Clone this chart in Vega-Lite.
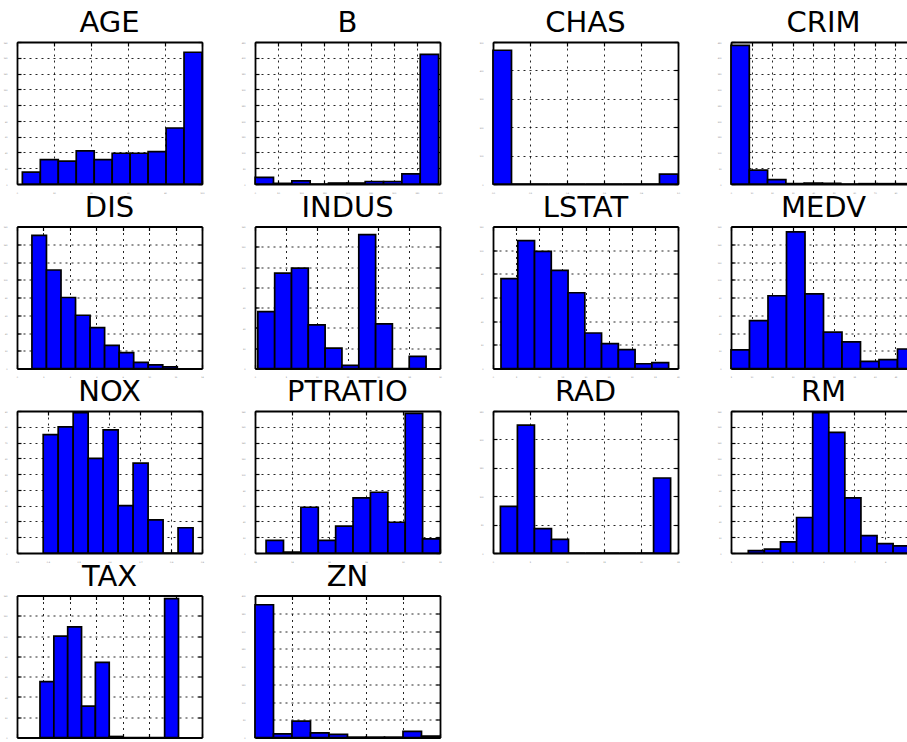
{
"$schema":"https://vega.github.io/schema/vega-lite/v6.json",
"padding":{"left":3,"top":9,"right":0,"bottom":0},
"background":"white",
"data":{"values":[
{"v":"AGE","x0":2.9,"x1":12.61,"n":15},{"v":"AGE","x0":12.61,"x1":22.32,"n":31},{"v":"AGE","x0":22.32,"x1":32.03,"n":29},{"v":"AGE","x0":32.03,"x1":41.74,"n":42},{"v":"AGE","x0":41.74,"x1":51.45,"n":31},{"v":"AGE","x0":51.45,"x1":61.16,"n":39},{"v":"AGE","x0":61.16,"x1":70.87,"n":39},{"v":"AGE","x0":70.87,"x1":80.58,"n":41},{"v":"AGE","x0":80.58,"x1":90.29,"n":71},{"v":"AGE","x0":90.29,"x1":100,"n":167},
{"v":"B","x0":0.32,"x1":39.98,"n":21},{"v":"B","x0":39.98,"x1":79.64,"n":2},{"v":"B","x0":79.64,"x1":119.29,"n":10},{"v":"B","x0":119.29,"x1":158.95,"n":0},{"v":"B","x0":158.95,"x1":198.61,"n":3},{"v":"B","x0":198.61,"x1":238.27,"n":3},{"v":"B","x0":238.27,"x1":277.93,"n":8},{"v":"B","x0":277.93,"x1":317.58,"n":8},{"v":"B","x0":317.58,"x1":357.24,"n":32},{"v":"B","x0":357.24,"x1":396.9,"n":411},
{"v":"CHAS","x0":0,"x1":0.1,"n":471},{"v":"CHAS","x0":0.1,"x1":0.2,"n":0},{"v":"CHAS","x0":0.2,"x1":0.3,"n":0},{"v":"CHAS","x0":0.3,"x1":0.4,"n":0},{"v":"CHAS","x0":0.4,"x1":0.5,"n":0},{"v":"CHAS","x0":0.5,"x1":0.6,"n":0},{"v":"CHAS","x0":0.6,"x1":0.7,"n":0},{"v":"CHAS","x0":0.7,"x1":0.8,"n":0},{"v":"CHAS","x0":0.8,"x1":0.9,"n":0},{"v":"CHAS","x0":0.9,"x1":1.0,"n":35},
{"v":"CRIM","x0":0.006,"x1":8.903,"n":439},{"v":"CRIM","x0":8.903,"x1":17.8,"n":44},{"v":"CRIM","x0":17.8,"x1":26.7,"n":14},{"v":"CRIM","x0":26.7,"x1":35.59,"n":1},{"v":"CRIM","x0":35.59,"x1":44.49,"n":3},{"v":"CRIM","x0":44.49,"x1":53.39,"n":2},{"v":"CRIM","x0":53.39,"x1":62.29,"n":0},{"v":"CRIM","x0":62.29,"x1":71.18,"n":1},{"v":"CRIM","x0":71.18,"x1":80.08,"n":1},{"v":"CRIM","x0":80.08,"x1":88.98,"n":1},
{"v":"DIS","x0":1.13,"x1":2.23,"n":150},{"v":"DIS","x0":2.23,"x1":3.33,"n":111},{"v":"DIS","x0":3.33,"x1":4.43,"n":80},{"v":"DIS","x0":4.43,"x1":5.53,"n":60},{"v":"DIS","x0":5.53,"x1":6.63,"n":46},{"v":"DIS","x0":6.63,"x1":7.73,"n":26},{"v":"DIS","x0":7.73,"x1":8.83,"n":18},{"v":"DIS","x0":8.83,"x1":9.93,"n":7},{"v":"DIS","x0":9.93,"x1":11.03,"n":4},{"v":"DIS","x0":11.03,"x1":12.13,"n":2},
{"v":"INDUS","x0":0.46,"x1":3.19,"n":56},{"v":"INDUS","x0":3.19,"x1":5.92,"n":94},{"v":"INDUS","x0":5.92,"x1":8.64,"n":99},{"v":"INDUS","x0":8.64,"x1":11.37,"n":43},{"v":"INDUS","x0":11.37,"x1":14.1,"n":20},{"v":"INDUS","x0":14.1,"x1":16.83,"n":3},{"v":"INDUS","x0":16.83,"x1":19.56,"n":132},{"v":"INDUS","x0":19.56,"x1":22.28,"n":44},{"v":"INDUS","x0":22.28,"x1":25.01,"n":0},{"v":"INDUS","x0":25.01,"x1":27.74,"n":12},
{"v":"LSTAT","x0":1.73,"x1":5.35,"n":76},{"v":"LSTAT","x0":5.35,"x1":8.98,"n":108},{"v":"LSTAT","x0":8.98,"x1":12.6,"n":99},{"v":"LSTAT","x0":12.6,"x1":16.23,"n":83},{"v":"LSTAT","x0":16.23,"x1":19.85,"n":64},{"v":"LSTAT","x0":19.85,"x1":23.47,"n":30},{"v":"LSTAT","x0":23.47,"x1":27.1,"n":21},{"v":"LSTAT","x0":27.1,"x1":30.72,"n":16},{"v":"LSTAT","x0":30.72,"x1":34.35,"n":4},{"v":"LSTAT","x0":34.35,"x1":37.97,"n":5},
{"v":"MEDV","x0":5,"x1":9.5,"n":21},{"v":"MEDV","x0":9.5,"x1":14,"n":54},{"v":"MEDV","x0":14,"x1":18.5,"n":82},{"v":"MEDV","x0":18.5,"x1":23,"n":154},{"v":"MEDV","x0":23,"x1":27.5,"n":84},{"v":"MEDV","x0":27.5,"x1":32,"n":41},{"v":"MEDV","x0":32,"x1":36.5,"n":30},{"v":"MEDV","x0":36.5,"x1":41,"n":8},{"v":"MEDV","x0":41,"x1":45.5,"n":10},{"v":"MEDV","x0":45.5,"x1":50,"n":22},
{"v":"NOX","x0":0.385,"x1":0.4336,"n":75},{"v":"NOX","x0":0.4336,"x1":0.4822,"n":80},{"v":"NOX","x0":0.4822,"x1":0.5308,"n":89},{"v":"NOX","x0":0.5308,"x1":0.5794,"n":60},{"v":"NOX","x0":0.5794,"x1":0.628,"n":78},{"v":"NOX","x0":0.628,"x1":0.6766,"n":30},{"v":"NOX","x0":0.6766,"x1":0.7252,"n":57},{"v":"NOX","x0":0.7252,"x1":0.7738,"n":21},{"v":"NOX","x0":0.7738,"x1":0.8224,"n":0},{"v":"NOX","x0":0.8224,"x1":0.871,"n":16},
{"v":"PTRATIO","x0":12.6,"x1":13.54,"n":16},{"v":"PTRATIO","x0":13.54,"x1":14.48,"n":1},{"v":"PTRATIO","x0":14.48,"x1":15.42,"n":58},{"v":"PTRATIO","x0":15.42,"x1":16.36,"n":16},{"v":"PTRATIO","x0":16.36,"x1":17.3,"n":34},{"v":"PTRATIO","x0":17.3,"x1":18.24,"n":70},{"v":"PTRATIO","x0":18.24,"x1":19.18,"n":77},{"v":"PTRATIO","x0":19.18,"x1":20.12,"n":39},{"v":"PTRATIO","x0":20.12,"x1":21.06,"n":177},{"v":"PTRATIO","x0":21.06,"x1":22.0,"n":18},
{"v":"RAD","x0":1,"x1":3.3,"n":82},{"v":"RAD","x0":3.3,"x1":5.6,"n":225},{"v":"RAD","x0":5.6,"x1":7.9,"n":43},{"v":"RAD","x0":7.9,"x1":10.2,"n":24},{"v":"RAD","x0":10.2,"x1":12.5,"n":0},{"v":"RAD","x0":12.5,"x1":14.8,"n":0},{"v":"RAD","x0":14.8,"x1":17.1,"n":0},{"v":"RAD","x0":17.1,"x1":19.4,"n":0},{"v":"RAD","x0":19.4,"x1":21.7,"n":0},{"v":"RAD","x0":21.7,"x1":24,"n":132},
{"v":"RM","x0":3.561,"x1":4.083,"n":3},{"v":"RM","x0":4.083,"x1":4.605,"n":5},{"v":"RM","x0":4.605,"x1":5.127,"n":14},{"v":"RM","x0":5.127,"x1":5.649,"n":45},{"v":"RM","x0":5.649,"x1":6.171,"n":178},{"v":"RM","x0":6.171,"x1":6.692,"n":153},{"v":"RM","x0":6.692,"x1":7.214,"n":70},{"v":"RM","x0":7.214,"x1":7.736,"n":22},{"v":"RM","x0":7.736,"x1":8.258,"n":12},{"v":"RM","x0":8.258,"x1":8.78,"n":9},
{"v":"TAX","x0":187,"x1":239.4,"n":55},{"v":"TAX","x0":239.4,"x1":291.8,"n":100},{"v":"TAX","x0":291.8,"x1":344.2,"n":109},{"v":"TAX","x0":344.2,"x1":396.6,"n":31},{"v":"TAX","x0":396.6,"x1":449,"n":74},{"v":"TAX","x0":449,"x1":501.4,"n":1},{"v":"TAX","x0":501.4,"x1":553.8,"n":0},{"v":"TAX","x0":553.8,"x1":606.2,"n":0},{"v":"TAX","x0":606.2,"x1":658.6,"n":0},{"v":"TAX","x0":658.6,"x1":711,"n":137},
{"v":"ZN","x0":0,"x1":10,"n":374},{"v":"ZN","x0":10,"x1":20,"n":10},{"v":"ZN","x0":20,"x1":30,"n":46},{"v":"ZN","x0":30,"x1":40,"n":13},{"v":"ZN","x0":40,"x1":50,"n":9},{"v":"ZN","x0":50,"x1":60,"n":1},{"v":"ZN","x0":60,"x1":70,"n":1},{"v":"ZN","x0":70,"x1":80,"n":1},{"v":"ZN","x0":80,"x1":90,"n":17},{"v":"ZN","x0":90,"x1":100,"n":4}
]},
"columns":4,
"spacing":{"row":42.5,"column":53},
"bounds":"flush",
"concat":[
{"title":"AGE","width":185,"height":142,"transform":[{"filter":"datum.v==='AGE'"}],"resolve":{"axis":{"x":"independent","y":"independent"}},"layer":[
{"mark":"rect","encoding":{"x":{"field":"x0","type":"quantitative","title":null,"scale":{"domain":[0,100],"nice":false},"axis":{"values":[0,20,40,60,80,100]}},"x2":{"field":"x1"},"y":{"field":"n","type":"quantitative","title":null,"scale":{"domain":[0,180],"nice":false},"axis":{"values":[0,20,40,60,80,100,120,140,160,180]}},"y2":{"datum":0}}},
{"mark":{"type":"rect","opacity":0},"encoding":{"x":{"field":"x0","type":"quantitative","title":null,"axis":{"orient":"top","labels":false,"grid":false,"values":[0,20,40,60,80,100]}},"x2":{"field":"x1"},"y":{"field":"n","type":"quantitative","title":null,"axis":{"orient":"right","labels":false,"grid":false,"values":[0,20,40,60,80,100,120,140,160,180]}},"y2":{"datum":0}}}]},
{"title":"B","width":185,"height":142,"transform":[{"filter":"datum.v==='B'"}],"resolve":{"axis":{"x":"independent","y":"independent"}},"layer":[
{"mark":"rect","encoding":{"x":{"field":"x0","type":"quantitative","title":null,"scale":{"domain":[0,400],"nice":false},"axis":{"values":[0,50,100,150,200,250,300,350,400]}},"x2":{"field":"x1"},"y":{"field":"n","type":"quantitative","title":null,"scale":{"domain":[0,450],"nice":false},"axis":{"values":[0,50,100,150,200,250,300,350,400,450]}},"y2":{"datum":0}}},
{"mark":{"type":"rect","opacity":0},"encoding":{"x":{"field":"x0","type":"quantitative","title":null,"axis":{"orient":"top","labels":false,"grid":false,"values":[0,50,100,150,200,250,300,350,400]}},"x2":{"field":"x1"},"y":{"field":"n","type":"quantitative","title":null,"axis":{"orient":"right","labels":false,"grid":false,"values":[0,50,100,150,200,250,300,350,400,450]}},"y2":{"datum":0}}}]},
{"title":"CHAS","width":185,"height":142,"transform":[{"filter":"datum.v==='CHAS'"}],"resolve":{"axis":{"x":"independent","y":"independent"}},"layer":[
{"mark":"rect","encoding":{"x":{"field":"x0","type":"quantitative","title":null,"scale":{"domain":[0,1],"nice":false},"axis":{"values":[0,0.2,0.4,0.6,0.8,1]}},"x2":{"field":"x1"},"y":{"field":"n","type":"quantitative","title":null,"scale":{"domain":[0,500],"nice":false},"axis":{"values":[0,100,200,300,400,500]}},"y2":{"datum":0}}},
{"mark":{"type":"rect","opacity":0},"encoding":{"x":{"field":"x0","type":"quantitative","title":null,"axis":{"orient":"top","labels":false,"grid":false,"values":[0,0.2,0.4,0.6,0.8,1]}},"x2":{"field":"x1"},"y":{"field":"n","type":"quantitative","title":null,"axis":{"orient":"right","labels":false,"grid":false,"values":[0,100,200,300,400,500]}},"y2":{"datum":0}}}]},
{"title":"CRIM","width":185,"height":142,"transform":[{"filter":"datum.v==='CRIM'"}],"resolve":{"axis":{"x":"independent","y":"independent"}},"layer":[
{"mark":"rect","encoding":{"x":{"field":"x0","type":"quantitative","title":null,"scale":{"domain":[0,90],"nice":false},"axis":{"values":[0,10,20,30,40,50,60,70,80,90]}},"x2":{"field":"x1"},"y":{"field":"n","type":"quantitative","title":null,"scale":{"domain":[0,450],"nice":false},"axis":{"values":[0,50,100,150,200,250,300,350,400,450]}},"y2":{"datum":0}}},
{"mark":{"type":"rect","opacity":0},"encoding":{"x":{"field":"x0","type":"quantitative","title":null,"axis":{"orient":"top","labels":false,"grid":false,"values":[0,10,20,30,40,50,60,70,80,90]}},"x2":{"field":"x1"},"y":{"field":"n","type":"quantitative","title":null,"axis":{"orient":"right","labels":false,"grid":false,"values":[0,50,100,150,200,250,300,350,400,450]}},"y2":{"datum":0}}}]},
{"title":"DIS","width":185,"height":142,"transform":[{"filter":"datum.v==='DIS'"}],"resolve":{"axis":{"x":"independent","y":"independent"}},"layer":[
{"mark":"rect","encoding":{"x":{"field":"x0","type":"quantitative","title":null,"scale":{"domain":[0,14],"nice":false},"axis":{"values":[0,2,4,6,8,10,12,14]}},"x2":{"field":"x1"},"y":{"field":"n","type":"quantitative","title":null,"scale":{"domain":[0,160],"nice":false},"axis":{"values":[0,20,40,60,80,100,120,140,160]}},"y2":{"datum":0}}},
{"mark":{"type":"rect","opacity":0},"encoding":{"x":{"field":"x0","type":"quantitative","title":null,"axis":{"orient":"top","labels":false,"grid":false,"values":[0,2,4,6,8,10,12,14]}},"x2":{"field":"x1"},"y":{"field":"n","type":"quantitative","title":null,"axis":{"orient":"right","labels":false,"grid":false,"values":[0,20,40,60,80,100,120,140,160]}},"y2":{"datum":0}}}]},
{"title":"INDUS","width":185,"height":142,"transform":[{"filter":"datum.v==='INDUS'"}],"resolve":{"axis":{"x":"independent","y":"independent"}},"layer":[
{"mark":"rect","encoding":{"x":{"field":"x0","type":"quantitative","title":null,"scale":{"domain":[0,30],"nice":false},"axis":{"values":[0,5,10,15,20,25,30]}},"x2":{"field":"x1"},"y":{"field":"n","type":"quantitative","title":null,"scale":{"domain":[0,140],"nice":false},"axis":{"values":[0,20,40,60,80,100,120,140]}},"y2":{"datum":0}}},
{"mark":{"type":"rect","opacity":0},"encoding":{"x":{"field":"x0","type":"quantitative","title":null,"axis":{"orient":"top","labels":false,"grid":false,"values":[0,5,10,15,20,25,30]}},"x2":{"field":"x1"},"y":{"field":"n","type":"quantitative","title":null,"axis":{"orient":"right","labels":false,"grid":false,"values":[0,20,40,60,80,100,120,140]}},"y2":{"datum":0}}}]},
{"title":"LSTAT","width":185,"height":142,"transform":[{"filter":"datum.v==='LSTAT'"}],"resolve":{"axis":{"x":"independent","y":"independent"}},"layer":[
{"mark":"rect","encoding":{"x":{"field":"x0","type":"quantitative","title":null,"scale":{"domain":[0,40],"nice":false},"axis":{"values":[0,5,10,15,20,25,30,35,40]}},"x2":{"field":"x1"},"y":{"field":"n","type":"quantitative","title":null,"scale":{"domain":[0,120],"nice":false},"axis":{"values":[0,20,40,60,80,100,120]}},"y2":{"datum":0}}},
{"mark":{"type":"rect","opacity":0},"encoding":{"x":{"field":"x0","type":"quantitative","title":null,"axis":{"orient":"top","labels":false,"grid":false,"values":[0,5,10,15,20,25,30,35,40]}},"x2":{"field":"x1"},"y":{"field":"n","type":"quantitative","title":null,"axis":{"orient":"right","labels":false,"grid":false,"values":[0,20,40,60,80,100,120]}},"y2":{"datum":0}}}]},
{"title":"MEDV","width":185,"height":142,"transform":[{"filter":"datum.v==='MEDV'"}],"resolve":{"axis":{"x":"independent","y":"independent"}},"layer":[
{"mark":"rect","encoding":{"x":{"field":"x0","type":"quantitative","title":null,"scale":{"domain":[5,50],"nice":false},"axis":{"values":[5,10,15,20,25,30,35,40,45,50]}},"x2":{"field":"x1"},"y":{"field":"n","type":"quantitative","title":null,"scale":{"domain":[0,160],"nice":false},"axis":{"values":[0,20,40,60,80,100,120,140,160]}},"y2":{"datum":0}}},
{"mark":{"type":"rect","opacity":0},"encoding":{"x":{"field":"x0","type":"quantitative","title":null,"axis":{"orient":"top","labels":false,"grid":false,"values":[5,10,15,20,25,30,35,40,45,50]}},"x2":{"field":"x1"},"y":{"field":"n","type":"quantitative","title":null,"axis":{"orient":"right","labels":false,"grid":false,"values":[0,20,40,60,80,100,120,140,160]}},"y2":{"datum":0}}}]},
{"title":"NOX","width":185,"height":142,"transform":[{"filter":"datum.v==='NOX'"}],"resolve":{"axis":{"x":"independent","y":"independent"}},"layer":[
{"mark":"rect","encoding":{"x":{"field":"x0","type":"quantitative","title":null,"scale":{"domain":[0.3,0.9],"nice":false},"axis":{"values":[0.3,0.4,0.5,0.6,0.7,0.8,0.9]}},"x2":{"field":"x1"},"y":{"field":"n","type":"quantitative","title":null,"scale":{"domain":[0,90],"nice":false},"axis":{"values":[0,10,20,30,40,50,60,70,80,90]}},"y2":{"datum":0}}},
{"mark":{"type":"rect","opacity":0},"encoding":{"x":{"field":"x0","type":"quantitative","title":null,"axis":{"orient":"top","labels":false,"grid":false,"values":[0.3,0.4,0.5,0.6,0.7,0.8,0.9]}},"x2":{"field":"x1"},"y":{"field":"n","type":"quantitative","title":null,"axis":{"orient":"right","labels":false,"grid":false,"values":[0,10,20,30,40,50,60,70,80,90]}},"y2":{"datum":0}}}]},
{"title":"PTRATIO","width":185,"height":142,"transform":[{"filter":"datum.v==='PTRATIO'"}],"resolve":{"axis":{"x":"independent","y":"independent"}},"layer":[
{"mark":"rect","encoding":{"x":{"field":"x0","type":"quantitative","title":null,"scale":{"domain":[12,22],"nice":false},"axis":{"values":[12,14,16,18,20,22]}},"x2":{"field":"x1"},"y":{"field":"n","type":"quantitative","title":null,"scale":{"domain":[0,180],"nice":false},"axis":{"values":[0,20,40,60,80,100,120,140,160,180]}},"y2":{"datum":0}}},
{"mark":{"type":"rect","opacity":0},"encoding":{"x":{"field":"x0","type":"quantitative","title":null,"axis":{"orient":"top","labels":false,"grid":false,"values":[12,14,16,18,20,22]}},"x2":{"field":"x1"},"y":{"field":"n","type":"quantitative","title":null,"axis":{"orient":"right","labels":false,"grid":false,"values":[0,20,40,60,80,100,120,140,160,180]}},"y2":{"datum":0}}}]},
{"title":"RAD","width":185,"height":142,"transform":[{"filter":"datum.v==='RAD'"}],"resolve":{"axis":{"x":"independent","y":"independent"}},"layer":[
{"mark":"rect","encoding":{"x":{"field":"x0","type":"quantitative","title":null,"scale":{"domain":[0,25],"nice":false},"axis":{"values":[0,5,10,15,20,25]}},"x2":{"field":"x1"},"y":{"field":"n","type":"quantitative","title":null,"scale":{"domain":[0,250],"nice":false},"axis":{"values":[0,50,100,150,200,250]}},"y2":{"datum":0}}},
{"mark":{"type":"rect","opacity":0},"encoding":{"x":{"field":"x0","type":"quantitative","title":null,"axis":{"orient":"top","labels":false,"grid":false,"values":[0,5,10,15,20,25]}},"x2":{"field":"x1"},"y":{"field":"n","type":"quantitative","title":null,"axis":{"orient":"right","labels":false,"grid":false,"values":[0,50,100,150,200,250]}},"y2":{"datum":0}}}]},
{"title":"RM","width":185,"height":142,"transform":[{"filter":"datum.v==='RM'"}],"resolve":{"axis":{"x":"independent","y":"independent"}},"layer":[
{"mark":"rect","encoding":{"x":{"field":"x0","type":"quantitative","title":null,"scale":{"domain":[3,9],"nice":false},"axis":{"values":[3,4,5,6,7,8,9]}},"x2":{"field":"x1"},"y":{"field":"n","type":"quantitative","title":null,"scale":{"domain":[0,180],"nice":false},"axis":{"values":[0,20,40,60,80,100,120,140,160,180]}},"y2":{"datum":0}}},
{"mark":{"type":"rect","opacity":0},"encoding":{"x":{"field":"x0","type":"quantitative","title":null,"axis":{"orient":"top","labels":false,"grid":false,"values":[3,4,5,6,7,8,9]}},"x2":{"field":"x1"},"y":{"field":"n","type":"quantitative","title":null,"axis":{"orient":"right","labels":false,"grid":false,"values":[0,20,40,60,80,100,120,140,160,180]}},"y2":{"datum":0}}}]},
{"title":"TAX","width":185,"height":142,"transform":[{"filter":"datum.v==='TAX'"}],"resolve":{"axis":{"x":"independent","y":"independent"}},"layer":[
{"mark":"rect","encoding":{"x":{"field":"x0","type":"quantitative","title":null,"scale":{"domain":[100,800],"nice":false},"axis":{"values":[100,200,300,400,500,600,700,800]}},"x2":{"field":"x1"},"y":{"field":"n","type":"quantitative","title":null,"scale":{"domain":[0,140],"nice":false},"axis":{"values":[0,20,40,60,80,100,120,140]}},"y2":{"datum":0}}},
{"mark":{"type":"rect","opacity":0},"encoding":{"x":{"field":"x0","type":"quantitative","title":null,"axis":{"orient":"top","labels":false,"grid":false,"values":[100,200,300,400,500,600,700,800]}},"x2":{"field":"x1"},"y":{"field":"n","type":"quantitative","title":null,"axis":{"orient":"right","labels":false,"grid":false,"values":[0,20,40,60,80,100,120,140]}},"y2":{"datum":0}}}]},
{"title":"ZN","width":185,"height":142,"transform":[{"filter":"datum.v==='ZN'"}],"resolve":{"axis":{"x":"independent","y":"independent"}},"layer":[
{"mark":"rect","encoding":{"x":{"field":"x0","type":"quantitative","title":null,"scale":{"domain":[0,100],"nice":false},"axis":{"values":[0,20,40,60,80,100]}},"x2":{"field":"x1"},"y":{"field":"n","type":"quantitative","title":null,"scale":{"domain":[0,400],"nice":false},"axis":{"values":[0,50,100,150,200,250,300,350,400]}},"y2":{"datum":0}}},
{"mark":{"type":"rect","opacity":0},"encoding":{"x":{"field":"x0","type":"quantitative","title":null,"axis":{"orient":"top","labels":false,"grid":false,"values":[0,20,40,60,80,100]}},"x2":{"field":"x1"},"y":{"field":"n","type":"quantitative","title":null,"axis":{"orient":"right","labels":false,"grid":false,"values":[0,50,100,150,200,250,300,350,400]}},"y2":{"datum":0}}}]}
],
"config":{
"font":"DejaVu Sans",
"view":{"stroke":null},
"rect":{"fill":"#0000ff","stroke":"black","strokeWidth":1.7},
"title":{"fontSize":29,"fontWeight":"normal","color":"black","font":"DejaVu Sans","offset":3,"anchor":"middle"},
"axis":{"zindex":1,"domainColor":"black","domainWidth":1.8,"tickColor":"black","tickWidth":1.2,"tickSize":-4,"grid":true,"gridColor":"black","gridDash":[2,4],"gridWidth":1,"gridOpacity":0.85,"labelFontSize":2,"labelColor":"#777","labelFont":"DejaVu Sans","labelFlush":false,"labelOverlap":false},
"axisBottom":{"labelPadding":11},
"axisLeft":{"labelPadding":14}
}
}
